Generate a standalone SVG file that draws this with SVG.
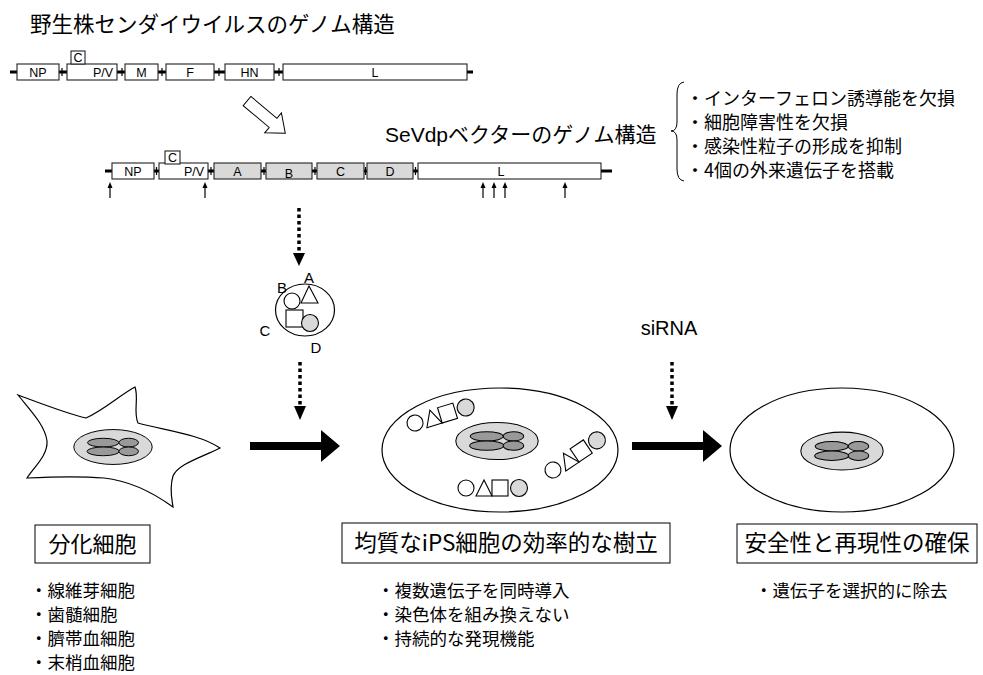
<svg xmlns="http://www.w3.org/2000/svg" width="983" height="675" viewBox="0 0 983 675">
  <style>
    .jp { font-family: "Noto Sans CJK JP", sans-serif; fill: #000; }
    .lat { font-family: "Liberation Sans", Arial, sans-serif; fill: #000; }
    .gene { fill: #fff; stroke: #222; stroke-width: 1.1; }
    .gene.ins { fill: #d9d9d9; }
    .glabel { font-family: "Liberation Sans", Arial, sans-serif; font-size: 12.5px; text-anchor: middle; fill: #000; }
    .backbone { stroke: #000; stroke-width: 3; }
    .tick { stroke: #000; stroke-width: 1.2; }
    .cell { fill: #fff; stroke: #000; stroke-width: 1.2; }
    .dotline { stroke: #000; stroke-width: 3.5; stroke-dasharray: 3.5 3; fill: none; }
    .head { fill: #000; }
    .sym { stroke: #000; stroke-width: 1.1; fill: #fff; }
    .symg { stroke: #000; stroke-width: 1.1; fill: #d9d9d9; }
    .box { fill: #fff; stroke: #000; stroke-width: 1; }
  </style>
  <defs>
    <!-- nucleus with four chromosomes -->
    <g id="nucleus">
      <ellipse cx="0" cy="0" rx="40" ry="18" fill="#d9d9d9" stroke="#000" stroke-width="1"/>
      <ellipse cx="-10" cy="-4.5" rx="16" ry="4.5" fill="#999" stroke="#000" stroke-width="1"/>
      <ellipse cx="-10" cy="4.5" rx="16.5" ry="4.5" fill="#999" stroke="#000" stroke-width="1"/>
      <ellipse cx="16" cy="-4.5" rx="10" ry="4.5" fill="#999" stroke="#000" stroke-width="1"/>
      <ellipse cx="16" cy="4.5" rx="10" ry="4.5" fill="#999" stroke="#000" stroke-width="1"/>
    </g>
    <!-- four transgene products: circle, triangle, square, grey circle -->
    <g id="vec">
      <circle class="sym" cx="0" cy="0" r="8"/>
      <polygon class="sym" points="10,8 18,-8 26,8"/>
      <rect class="sym" x="26" y="-8" width="16" height="16"/>
      <circle class="symg" cx="53" cy="0" r="8.5"/>
    </g>
  </defs>

  <!-- headings -->
  <text class="jp" x="30" y="32" font-size="21.5">野生株センダイウイルスのゲノム構造</text>
  <text x="385" y="142" font-size="21" font-family="Liberation Sans, Noto Sans CJK JP, sans-serif">SeVdpベクターのゲノム構造</text>

  <!-- wild-type genome -->
  <g id="genome-wt">
    <line class="backbone" x1="10" y1="72" x2="473" y2="72"/>
    <line class="tick" x1="62" y1="68" x2="62" y2="76"/>
    <line class="tick" x1="122" y1="68" x2="122" y2="76"/>
    <line class="tick" x1="162" y1="68" x2="162" y2="76"/>
    <line class="tick" x1="219" y1="68" x2="219" y2="76"/>
    <line class="tick" x1="279" y1="68" x2="279" y2="76"/>
    <rect class="gene" x="17" y="64" width="42" height="16"/>
    <text class="glabel" x="38" y="77">NP</text>
    <rect class="gene" x="67" y="64" width="50" height="16"/>
    <text class="glabel" x="103" y="77">P/V</text>
    <rect class="gene" x="71" y="51" width="14" height="13"/>
    <text class="glabel" x="78" y="62">C</text>
    <rect class="gene" x="125" y="64" width="33" height="16"/>
    <text class="glabel" x="141.5" y="77">M</text>
    <rect class="gene" x="166" y="64" width="48" height="16"/>
    <text class="glabel" x="190" y="77">F</text>
    <rect class="gene" x="225" y="64" width="49" height="16"/>
    <text class="glabel" x="249.5" y="77">HN</text>
    <rect class="gene" x="283" y="64" width="184" height="16"/>
    <text class="glabel" x="375" y="77">L</text>
  </g>

  <!-- hollow arrow between genomes -->
  <g id="hollow-arrow">
    <polygon points="0,-6 34,-6 34,-13 50,0 34,13 34,6 0,6" fill="#fff" stroke="#000" stroke-width="1" transform="translate(247,101) rotate(40)"/>
  </g>

  <!-- SeVdp vector genome -->
  <g id="genome-sevdp">
    <line class="backbone" x1="105" y1="171" x2="612" y2="171"/>
    <line class="tick" x1="156.5" y1="167" x2="156.5" y2="175"/>
    <line class="tick" x1="211" y1="167" x2="211" y2="175"/>
    <line class="tick" x1="264" y1="167" x2="264" y2="175"/>
    <line class="tick" x1="315" y1="167" x2="315" y2="175"/>
    <line class="tick" x1="365.5" y1="167" x2="365.5" y2="175"/>
    <line class="tick" x1="415.5" y1="167" x2="415.5" y2="175"/>
    <rect class="gene" x="112" y="163" width="42" height="16"/>
    <text class="glabel" x="133" y="176">NP</text>
    <rect class="gene" x="159" y="163" width="49" height="16"/>
    <text class="glabel" x="194" y="176">P/V</text>
    <rect class="gene" x="165" y="151" width="15" height="13"/>
    <text class="glabel" x="172.5" y="162">C</text>
    <rect class="gene ins" x="214" y="163" width="47" height="16"/>
    <text class="glabel" x="237.5" y="176">A</text>
    <rect class="gene ins" x="266" y="163" width="46" height="16"/>
    <text class="glabel" x="289" y="177.5">B</text>
    <rect class="gene ins" x="317" y="163" width="47" height="16"/>
    <text class="glabel" x="340.5" y="176">C</text>
    <rect class="gene ins" x="367" y="163" width="46" height="16"/>
    <text class="glabel" x="390" y="176">D</text>
    <rect class="gene" x="418" y="163" width="183" height="16"/>
    <text class="glabel" x="501" y="176">L</text>
    <!-- mutation sites -->
    <g stroke="#000" stroke-width="1.2">
      <line x1="110" y1="198" x2="110" y2="187"/>
      <line x1="205" y1="198" x2="205" y2="187"/>
      <line x1="483" y1="198" x2="483" y2="187"/>
      <line x1="494" y1="198" x2="494" y2="187"/>
      <line x1="505" y1="198" x2="505" y2="187"/>
      <line x1="565" y1="198" x2="565" y2="187"/>
    </g>
    <g class="head">
      <polygon points="107.5,188 110,182 112.5,188"/>
      <polygon points="202.5,188 205,182 207.5,188"/>
      <polygon points="480.5,188 483,182 485.5,188"/>
      <polygon points="491.5,188 494,182 496.5,188"/>
      <polygon points="502.5,188 505,182 507.5,188"/>
      <polygon points="562.5,188 565,182 567.5,188"/>
    </g>
  </g>

  <!-- feature list -->
  <g id="features" class="jp" font-size="18">
    <path d="M684,82 Q677,83 677,94 L677,122 Q677,131 671,131 Q677,131 677,140 L677,169 Q677,180 684,181" fill="none" stroke="#000" stroke-width="1"/>
    <text x="686" y="105">・インターフェロン誘導能を欠損</text>
    <text x="686" y="129">・細胞障害性を欠損</text>
    <text x="686" y="153">・感染性粒子の形成を抑制</text>
    <text x="686" y="177">・4個の外来遺伝子を搭載</text>
  </g>

  <!-- vector particle -->
  <g id="particle">
    <ellipse class="cell" cx="305" cy="310" rx="29.5" ry="26"/>
    <circle class="sym" cx="292" cy="301" r="8"/>
    <polygon class="sym" points="301,303 309,286 318,303"/>
    <rect class="sym" x="286" y="310" width="17" height="17"/>
    <circle class="symg" cx="310" cy="323" r="8.5"/>
    <text class="lat" x="309" y="283" font-size="15" text-anchor="middle">A</text>
    <text class="lat" x="282" y="293" font-size="15" text-anchor="middle">B</text>
    <text class="lat" x="265" y="336" font-size="15" text-anchor="middle">C</text>
    <text class="lat" x="316" y="353" font-size="15" text-anchor="middle">D</text>
  </g>

  <!-- differentiated cell -->
  <g id="cell-diff">
    <path class="cell" d="M18,395 C45,405 68,414 86,418 C104,410 120,395 135,387 C139,398 133,412 138,423 C162,430 200,434 220,448 C200,458 178,464 173,476 C169,489 172,499 173,507 C155,494 132,481 104,478 C78,476 48,477 27,478 C35,466 48,455 47,441 C45,425 30,410 18,395 Z"/>
    <use href="#nucleus" transform="translate(113,447) scale(0.98,0.97)"/>
  </g>

  <!-- iPS cell with transgene products -->
  <g id="cell-ips">
    <ellipse class="cell" cx="500" cy="450" rx="118" ry="62"/>
    <use href="#nucleus" transform="translate(497,441) scale(1.03,1.03)"/>
    <use href="#vec" transform="translate(415,423) rotate(-17)"/>
    <use href="#vec" transform="translate(553,470) rotate(-34)"/>
    <use href="#vec" transform="translate(466,488)"/>
  </g>

  <!-- cell after siRNA -->
  <g id="cell-safe">
    <ellipse class="cell" cx="842" cy="450" rx="112" ry="62"/>
    <use href="#nucleus" transform="translate(842,451) scale(1.03,1.05)"/>
  </g>

  <!-- connectors -->
  <g id="connectors">
    <line class="dotline" x1="299" y1="208" x2="299" y2="252"/>
    <polygon class="head" points="293,253 305,253 299,266"/>
    <line class="dotline" x1="300" y1="362" x2="300" y2="405"/>
    <polygon class="head" points="294,406 306,406 300,420"/>
    <line class="dotline" x1="672" y1="362" x2="672" y2="405"/>
    <polygon class="head" points="666,406 678,406 672,420"/>
    <rect x="250" y="442" width="72" height="8" fill="#000"/>
    <polygon class="head" points="321,430 340,446 321,462"/>
    <rect x="632" y="442" width="72" height="8" fill="#000"/>
    <polygon class="head" points="703,430 722,446 703,462"/>
  </g>
  <text class="lat" x="669" y="335" font-size="20" text-anchor="middle">siRNA</text>

  <!-- caption boxes -->
  <g id="label-diff">
    <rect class="box" x="35" y="525" width="115" height="38"/>
    <text class="jp" x="92.5" y="552" font-size="22" text-anchor="middle">分化細胞</text>
  </g>
  <g id="label-ips">
    <rect class="box" x="342" y="523" width="328" height="40"/>
    <text class="jp" x="506" y="551" font-size="22.5" text-anchor="middle">均質なiPS細胞の効率的な樹立</text>
  </g>
  <g id="label-safe">
    <rect class="box" x="737" y="524" width="240" height="39"/>
    <text class="jp" x="857" y="551" font-size="22.5" text-anchor="middle">安全性と再現性の確保</text>
  </g>

  <!-- bullet notes -->
  <g class="jp" font-size="17.5">
    <text x="30" y="597">・線維芽細胞</text>
    <text x="30" y="621">・歯髄細胞</text>
    <text x="30" y="645">・臍帯血細胞</text>
    <text x="30" y="669">・末梢血細胞</text>
    <text x="377" y="597">・複数遺伝子を同時導入</text>
    <text x="377" y="621">・染色体を組み換えない</text>
    <text x="377" y="645">・持続的な発現機能</text>
    <text x="755" y="597">・遺伝子を選択的に除去</text>
  </g>
</svg>
